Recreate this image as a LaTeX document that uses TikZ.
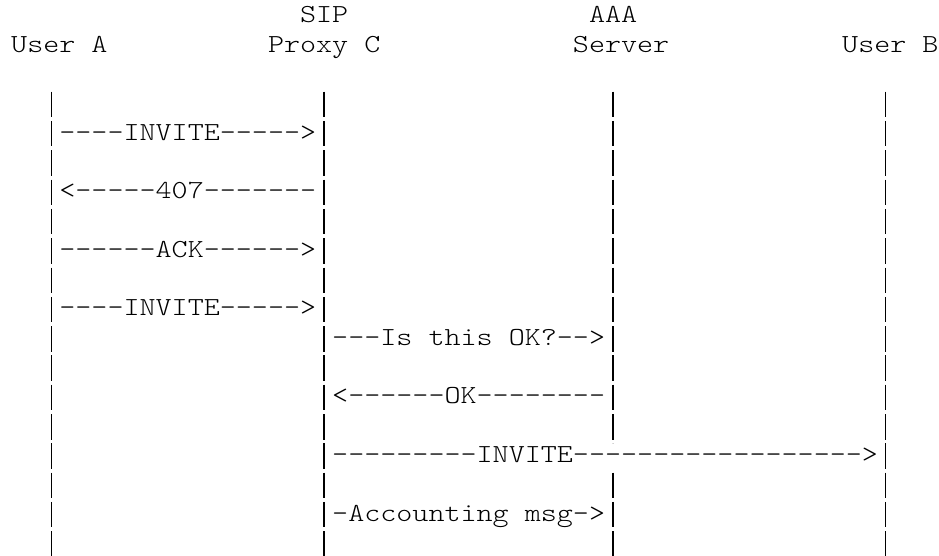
\documentclass[tikz,border=0pt]{standalone}
\usepackage{fontspec}
\setmonofont{lmmonolt10-regular.otf}
\newcommand{\asc}[1]{\scalebox{1.176}[1]{#1}}

\begin{document}
\begin{tikzpicture}[x=1pt,y=1pt,yscale=-1,
  txt/.style={anchor=base west,inner sep=0pt,font=\fontsize{26}{30}\selectfont\ttfamily},
  lifeline/.style={line width=1.2pt,dash pattern=on 25.5pt off 3.8pt}]
\useasboundingbox (0,0) rectangle (939,556);

% Header Nodes
\draw (299.9,22.9) node [txt] (sip) {\asc{SIP}};
\draw (588.8,22.9) node [txt] (aaa) {\asc{AAA}};
\draw (11,52.2) node [txt] (userA) {\asc{User A}};
\draw (267.8,52.2) node [txt] (proxyC) {\asc{Proxy C}};
\draw (572.75,52.2) node [txt] (server) {\asc{Server}};
\draw (842,52.2) node [txt] (userB) {\asc{User B}};

% Lifelines
\coordinate (aTop) at (51.1,91.7);
\coordinate (aEnd) at (51.1,556.7);
\coordinate (cTop) at (324,91.7);
\coordinate (cEnd) at (324,556.7);
\coordinate (sTop) at (612.9,91.7);
\coordinate (sCut) at (612.9,443.3);
\coordinate (sResume) at (612.9,472.6);
\coordinate (sEnd) at (612.9,556.7);
\coordinate (bTop) at (885.7,91.7);
\coordinate (bEnd) at (885.7,556.7);
\draw [lifeline] (aTop) -- (aEnd);
\draw [lifeline] (cTop) -- (cEnd);
\draw [lifeline] (sTop) -- (sCut);
\draw [lifeline] (sResume) -- (sEnd);
\draw [lifeline] (bTop) -- (bEnd);

% Message Nodes
\draw (59.15,140.1) node [txt] (invite1) {\asc{----INVITE----->}};
\draw (59.15,198.7) node [txt] (auth407) {\asc{<-----407-------}};
\draw (59.15,257.3) node [txt] (ack) {\asc{------ACK------>}};
\draw (59.15,315.9) node [txt] (invite2) {\asc{----INVITE----->}};
\draw (332,345.2) node [txt] (query) {\asc{---Is this OK?-->}};
\draw (332,403.8) node [txt] (ok) {\asc{<------OK--------}};
\draw (332,462.4) node [txt] (invite3) {\asc{---------INVITE------------------>}};
\draw (332,521) node [txt] (acct) {\asc{-Accounting msg->}};

\end{tikzpicture}
\end{document}
